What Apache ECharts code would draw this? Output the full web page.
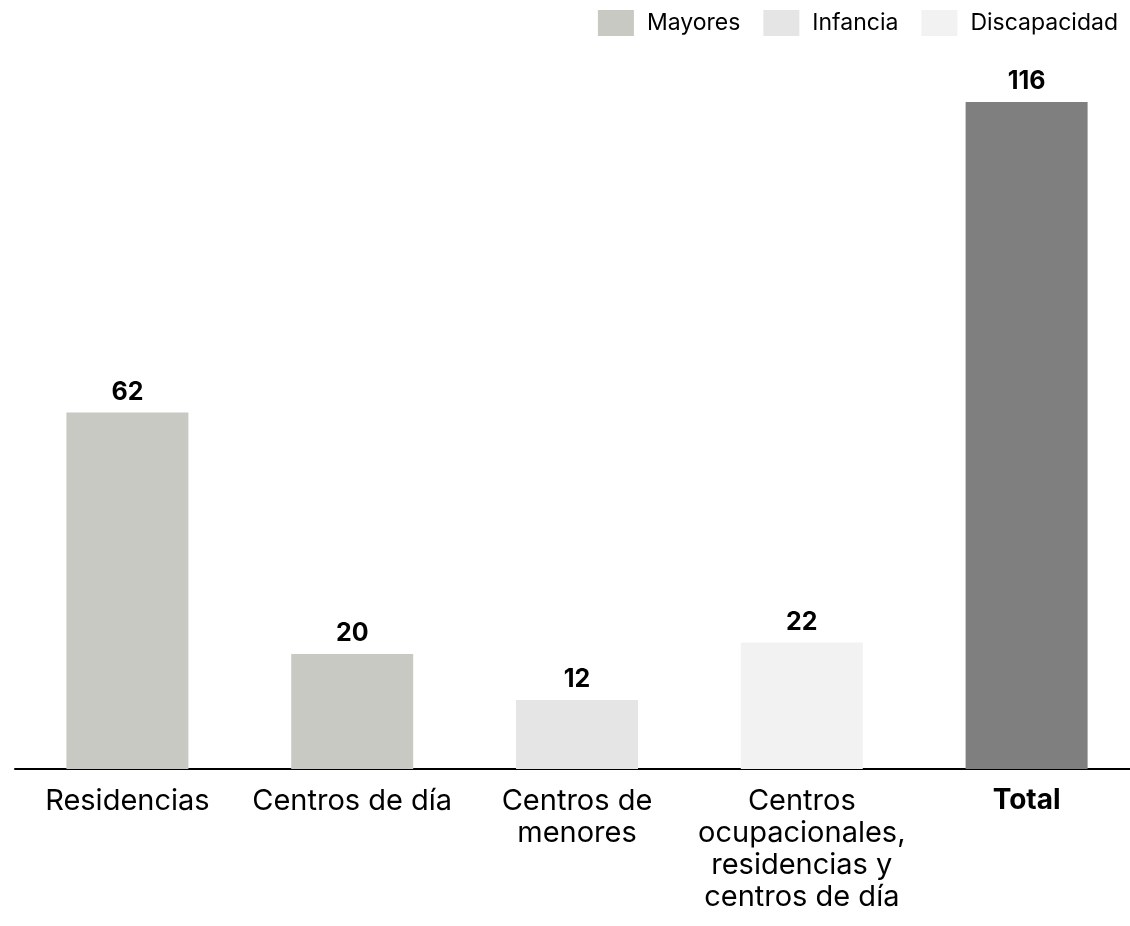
<!DOCTYPE html>
<html>
<head>
<meta charset="utf-8">
<script src="https://cdn.jsdelivr.net/npm/echarts@6/dist/echarts.min.js"></script>
<style>
  html, body { margin: 0; padding: 0; background: #fff; }
  #chart { width: 1130px; height: 926px; }
</style>
</head>
<body>
<div id="chart"></div>
<script>
const categories = ['Residencias', 'Centros de día', 'Centros de\nmenores', 'Centros\nocupacionales,\nresidencias y\ncentros de día', 'Total']
const mayores = [62, 20, '-', '-', '-']
const infancia = ['-', '-', 12, '-', '-']
const discapacidad = ['-', '-', '-', 22, '-']
const total = ['-', '-', '-', '-', 116]

const font = 'Inter, "Noto Sans", sans-serif'
const label = {
  show: true,
  position: 'top',
  distance: 8,
  color: '#000',
  fontWeight: 'bold',
  fontSize: 25,
  fontFamily: font
}
function bar(name, data, color) {
  return {
    name: name,
    type: 'bar',
    stack: 'all',
    barWidth: 122,
    data: data,
    itemStyle: { color: color },
    label: label,
    animation: false
  }
}

const chart = echarts.init(document.getElementById('chart'))
chart.setOption({
  textStyle: { fontFamily: font },
  legend: {
    data: ['Mayores', 'Infancia', 'Discapacidad'],
    icon: 'rect',
    right: 7,
    top: 5,
    itemWidth: 36,
    itemHeight: 26,
    itemGap: 23,
    textStyle: { fontSize: 23, color: '#000', fontFamily: font, padding: [0, 0, 0, 8] }
  },
  grid: { left: 15, width: 1124, top: 102, bottom: 157, containLabel: false, outerBoundsMode: 'none' },
  xAxis: {
    type: 'category',
    data: categories,
    axisLine: { lineStyle: { color: '#000', width: 2 } },
    axisTick: { show: false },
    axisLabel: {
      interval: 0,
      margin: 16,
      fontSize: 29,
      lineHeight: 32,
      color: '#000',
      fontFamily: font,
      formatter: function (v) {
        return v === 'Total' ? '{b|Total}' : v
      },
      rich: { b: { fontWeight: 'bold', fontSize: 28, color: '#000', fontFamily: font } }
    }
  },
  yAxis: {
    type: 'value',
    min: 0,
    max: 116,
    show: false,
    splitLine: { show: false }
  },
  series: [
    bar('Mayores', mayores, '#c8c9c3'),
    bar('Infancia', infancia, '#e5e5e5'),
    bar('Discapacidad', discapacidad, '#f2f2f2'),
    bar('Total', total, '#7f7f7f')
  ]
})
</script>
</body>
</html>
